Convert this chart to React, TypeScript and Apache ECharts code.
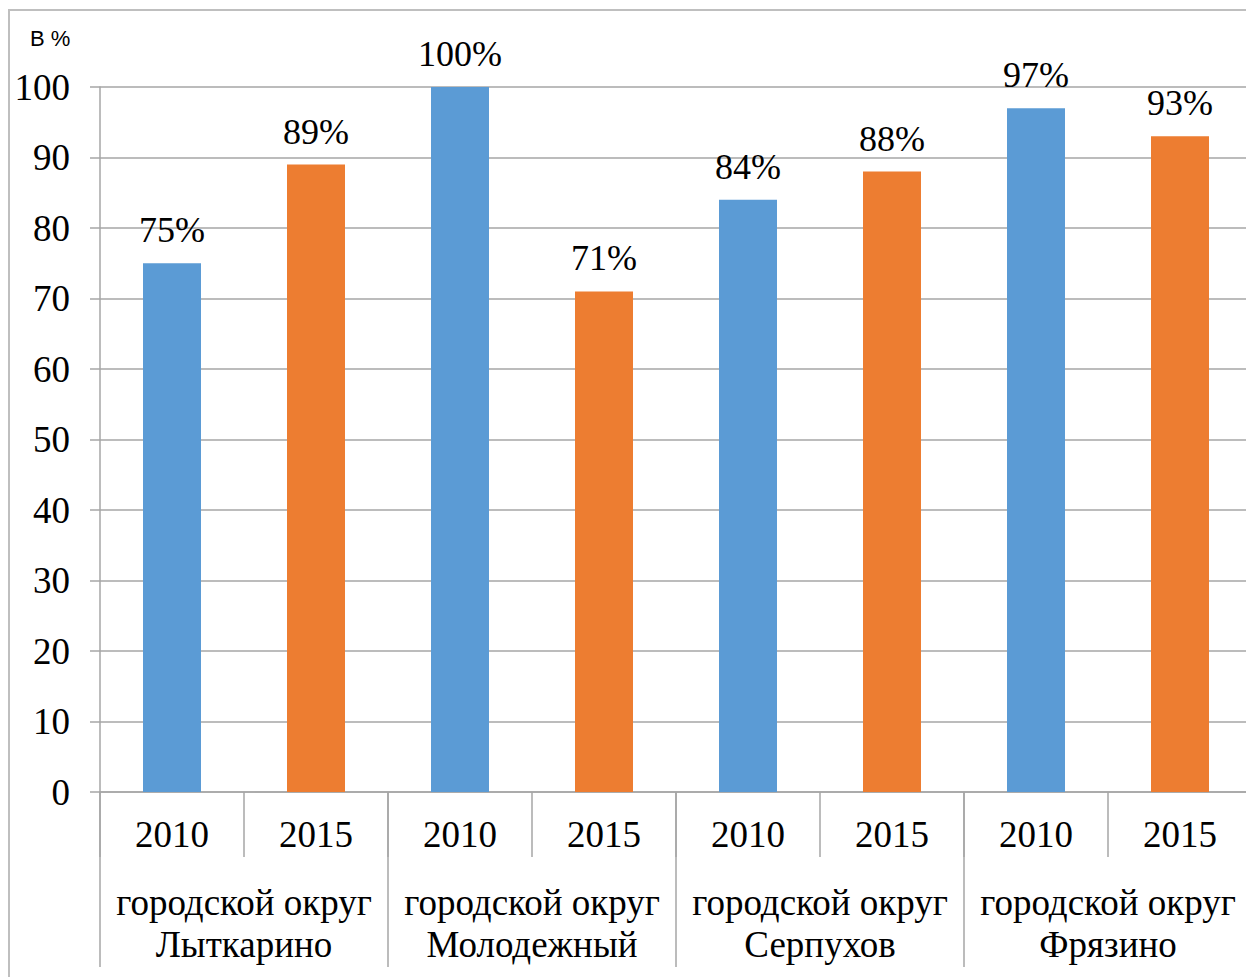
import React, { useEffect, useRef } from "react";
import * as echarts from "echarts";

const years = ["2010", "2015", "2010", "2015", "2010", "2015", "2010", "2015"];
const groups = [
  "городской округ\nЛыткарино",
  "городской округ\nМолодежный",
  "городской округ\nСерпухов",
  "городской округ\nФрязино",
];
const values = [75, 89, 100, 71, 84, 88, 97, 93];
const yearColors = { "2010": "#5B9BD5", "2015": "#ED7D31" };
const yTicks = [0, 10, 20, 30, 40, 50, 60, 70, 80, 90, 100];

export default function App() {
  const ref = useRef<HTMLDivElement>(null);
  useEffect(() => {
    if (!ref.current) return;
    const chart = echarts.init(ref.current, null, { renderer: "svg" });
    const serif = "'Liberation Serif', 'Times New Roman', serif";
    chart.setOption({
      animation: false,
      grid: { left: 100, right: 0, top: 87, bottom: 185, containLabel: false },
      graphic: [
        {
          type: "rect",
          shape: { x: 9, y: 10, width: 1400, height: 1100 },
          style: { fill: "none", stroke: "#bfbfbf", lineWidth: 2 },
          silent: true,
        },
        {
          type: "text",
          left: 30,
          top: 27,
          style: {
            text: "В %",
            font: "22px 'Liberation Sans', Arial, sans-serif",
            fill: "#000",
          },
        },
      ],
      xAxis: [
        {
          type: "category",
          data: years,
          position: "bottom",
          axisLine: { show: true, lineStyle: { color: "#a6a6a6", width: 1.5 } },
          axisTick: { show: true, interval: 0, length: 65, lineStyle: { color: "#a6a6a6", width: 1.5 } },
          axisLabel: {
            interval: 0,
            margin: 24,
            fontFamily: serif,
            fontSize: 37,
            lineHeight: 37,
            color: "#000",
          },
          splitLine: { show: false },
        },
        {
          type: "category",
          data: groups,
          position: "bottom",
          axisLine: { show: false },
          axisTick: { show: true, interval: 0, length: 175, lineStyle: { color: "#a6a6a6", width: 1.5 } },
          axisLabel: {
            interval: 0,
            margin: 89,
            fontFamily: serif,
            fontSize: 37,
            lineHeight: 42,
            color: "#000",
          },
          splitLine: { show: false },
        },
      ],
      yAxis: {
        type: "value",
        min: 0,
        max: 100,
        interval: 10,
        axisLine: { show: true, lineStyle: { color: "#a6a6a6", width: 1.5 } },
        axisTick: { show: true, length: 10, lineStyle: { color: "#a6a6a6", width: 1.5 } },
        axisLabel: {
          margin: 30,
          fontFamily: serif,
          fontSize: 37,
          color: "#000",
          formatter: (v: number) => (yTicks.includes(v) ? String(v) : ""),
        },
        splitLine: { show: true, lineStyle: { color: "#a6a6a6", width: 1.5 } },
      },
      series: [
        {
          type: "bar",
          xAxisIndex: 0,
          barWidth: 58,
          data: values.map((v, i) => ({
            value: v,
            itemStyle: { color: (yearColors as any)[years[i]] },
          })),
          label: {
            show: true,
            position: "top",
            distance: 15,
            formatter: "{c}%",
            fontFamily: serif,
            fontSize: 36,
            color: "#000",
          },
        },
      ],
    });
    return () => chart.dispose();
  }, []);
  return (
    <div
      ref={ref}
      style={{ position: "fixed", left: 0, top: 0, width: 1252, height: 977, background: "#fff" }}
    />
  );
}
